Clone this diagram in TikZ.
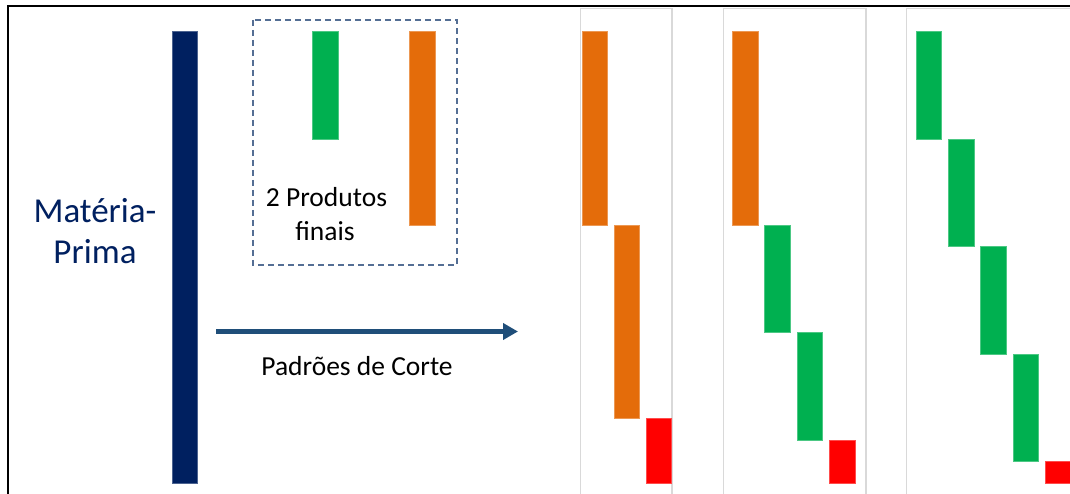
\documentclass[tikz,border=0pt]{standalone}
\usepackage{fontspec}
\setmainfont{Carlito}
\usetikzlibrary{arrows.meta}
\definecolor{navy}{RGB}{0,32,96}
\definecolor{arrowblue}{RGB}{31,78,121}
\definecolor{dashblue}{RGB}{84,110,148}
\definecolor{obar}{RGB}{228,108,10}
\definecolor{gbar}{RGB}{0,176,80}
\definecolor{rbar}{RGB}{255,0,0}
\definecolor{panelgray}{RGB}{217,217,217}
\tikzset{
  orangebar/.style={fill=obar, draw=obar!70!white, line width=0.5pt},
  greenbar/.style={fill=gbar, draw=gbar!70!white, line width=0.5pt},
  redbar/.style={fill=rbar, draw=rbar!70!white, line width=0.5pt},
  navybar/.style={fill=navy, draw=navy!70!white, line width=0.5pt},
  panel/.style={draw=panelgray, line width=1.4pt},
  bigtext/.style={font=\fontsize{35}{42}\selectfont, text=navy, anchor=base, inner sep=0pt},
  midtext/.style={font=\fontsize{27.5}{33}\selectfont, text=black, anchor=base, inner sep=0pt},
  framebox/.style={draw=dashblue, line width=1.3pt, dash pattern=on 6pt off 4pt},
  cutarrow/.style={draw=arrowblue, line width=4.5pt, -{Triangle[length=15pt,width=16pt]}}
}
\begin{document}
\begin{tikzpicture}[x=1pt,y=-1pt]
\useasboundingbox (0,0) rectangle (1070,494);
\fill[white] (0,0) rectangle (1070,494);
% outer frame (top and left visible)
\draw[black, line width=2pt] (8,500) -- (8,6) -- (1075,6);
% panels
\draw[panel] (580.7,500) -- (580.7,8.3) -- (672,8.3) -- (672,500);
\draw[panel] (723.3,500) -- (723.3,8.3) -- (866,8.3) -- (866,500);
\draw[panel] (906.7,500) -- (906.7,8.3) -- (1075,8.3);
% raw material bar
\path[navybar] (172,31.3) rectangle (197.5,483.3);
% products box
\draw[framebox] (253,20) rectangle (457,265);
\path[greenbar] (312.5,31.3) rectangle ++(25.5,107.5);
\path[orangebar] (409.5,31.3) rectangle ++(25.5,193.5);
% labels
\node[bigtext] (mp1) at (95,223) {Matéria-};
\node[bigtext] (mp2) at (95,263) {Prima};
\node[midtext] (p1) at (326.5,207) {2 Produtos};
\node[midtext] (p2) at (325,241) {finais};
\node[midtext] (pc) at (357,375.5) {Padrões de Corte};
% arrow
\coordinate (a0) at (216,331.5);
\coordinate (a1) at (518,331.5);
\draw[cutarrow] (a0) -- (a1);
% pattern 1
\path[orangebar] (582,31.3) rectangle ++(25.5,193.5);
\path[orangebar] (614,224.8) rectangle ++(25.5,193.5);
\path[redbar] (646,418.3) rectangle (671.5,483.3);
% pattern 2
\path[orangebar] (732.3,31.3) rectangle ++(25.5,193.5);
\path[greenbar] (764.6,224.8) rectangle ++(25.5,107.5);
\path[greenbar] (797,332.3) rectangle ++(25.5,107.5);
\path[redbar] (829.3,439.8) rectangle (854.8,483.3);
% pattern 3
\path[greenbar] (916,31.3) rectangle ++(25.5,107.5);
\path[greenbar] (948.3,138.8) rectangle ++(25.5,107.5);
\path[greenbar] (980.6,246.3) rectangle ++(25.5,107.5);
\path[greenbar] (1012.9,353.8) rectangle ++(25.5,107.5);
\path[redbar] (1045.2,461.3) rectangle (1072,483.3);
\end{tikzpicture}
\end{document}
